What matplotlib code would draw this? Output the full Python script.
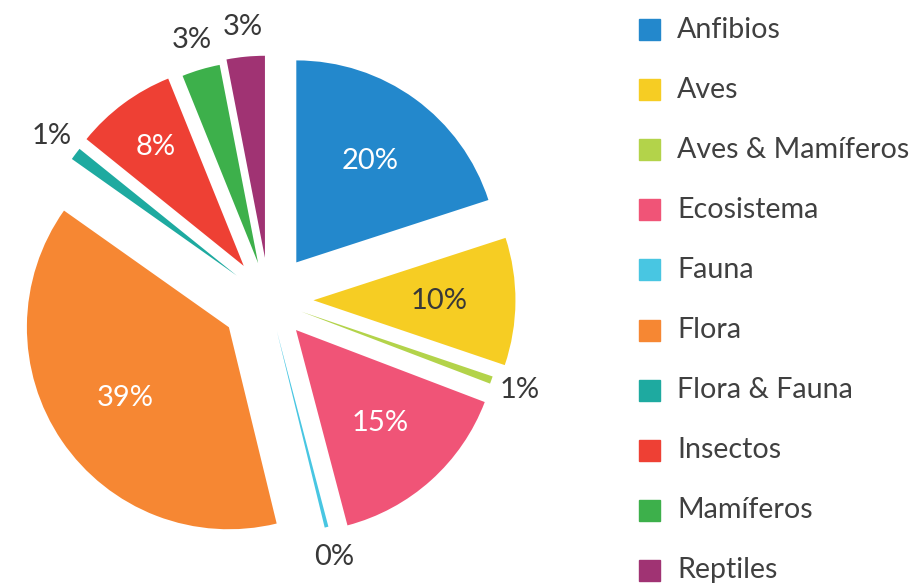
import numpy as np
import matplotlib.pyplot as plt
from matplotlib.patches import Rectangle

labels = ['Anfibios', 'Aves', 'Aves & Mamíferos', 'Ecosistema', 'Fauna',
          'Flora', 'Flora & Fauna', 'Insectos', 'Mamíferos', 'Reptiles']
values = [20.0, 10.2, 0.6, 15.1, 0.3, 38.6, 1.0, 8.1, 3.05, 3.05]
colors = ['#2388CC', '#F6CD23', '#B3D34A', '#F05477', '#48C6E2',
          '#F68733', '#1EAAA0', '#EE4034', '#3DB04B', '#A03373']
explode = [0.23, 0.22, 0.17, 0.20, 0.16, 0.24, 0.20, 0.21, 0.19, 0.21]

plt.rcParams['font.family'] = ['Lato', 'DejaVu Sans']
W, H = 917, 588
fig = plt.figure(figsize=(W / 100, H / 100), dpi=100)

# pie centre and radius in pixels
cx, cy, r = 269, 300, 202
ax = fig.add_axes([0, 0, 1, 1])
wedges, _ = ax.pie(values, colors=colors, startangle=90, counterclock=False,
                   explode=explode, radius=1)
ax.set_xlim(-cx / r, (W - cx) / r)
ax.set_ylim(-(H - cy) / r, cy / r)
ax.set_aspect('equal')
ax.axis('off')

total = sum(values)
for w, v, c in zip(wedges, values, colors):
    mid = np.deg2rad((w.theta1 + w.theta2) / 2)
    ox, oy = w.center
    pct = v / total * 100
    txt = '%d%%' % round(pct)
    if pct < 5:
        d, col = 1.15, '#383838'
    elif pct < 10:
        d, col = 0.73, 'white'
    else:
        d, col = 0.62, 'white'
    if c == '#F6CD23':
        col = '#383838'
    ax.text(ox + d * np.cos(mid), oy + d * np.sin(mid), txt, ha='center', va='center',
            fontsize=21, color=col)

# legend
for i, (lab, c) in enumerate(zip(labels, colors)):
    yc = 29.5 + 60.1 * i
    fig.patches.append(Rectangle((639 / W, 1 - (yc + 10.5) / H), 21 / W, 21 / H,
                                 transform=fig.transFigure, color=c))
    fig.text(677 / W, 1 - (yc + 8) / H, lab, fontsize=20.6, color='#404040',
             va='baseline', ha='left')

fig.savefig('out.png', dpi=100)
